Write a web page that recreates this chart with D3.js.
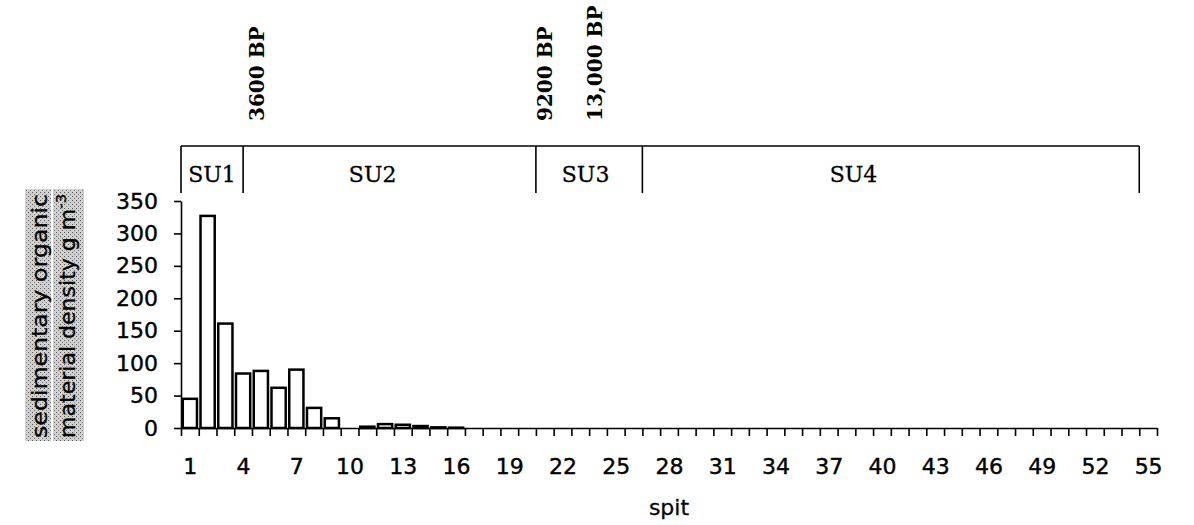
<!DOCTYPE html>
<html>
<head>
<meta charset="utf-8">
<script src="https://cdn.jsdelivr.net/npm/d3@7"></script>
<style>
  body { margin: 0; background: #fff; }
  svg { display: block; }
  .axis text { font-family: "DejaVu Sans", sans-serif; font-size: 22px; fill: #000; stroke: #000; stroke-width: 0.4; }
  .axis path, .axis line { stroke: #000; stroke-width: 1.6; }
</style>
</head>
<body>
<div id="chart"></div>
<script>
// spit numbers and sediment organic density (g m-3)
const spits = [1, 2, 3, 4, 5, 6, 7, 8, 9, 10, 11, 12, 13, 14, 15, 16, 17, 18, 19, 20,
    21, 22, 23, 24, 25, 26, 27, 28, 29, 30, 31, 32, 33, 34, 35, 36, 37, 38, 39, 40,
    41, 42, 43, 44, 45, 46, 47, 48, 49, 50, 51, 52, 53, 54, 55];
const density = [45, 327, 161, 84, 88, 62, 90, 31, 15, 0, 2, 6, 5, 3, 1, 0.5, 0, 0, 0, 0,
    0, 0, 0, 0, 0, 0, 0, 0, 0, 0, 0, 0, 0, 0, 0, 0, 0, 0, 0, 0,
    0, 0, 0, 0, 0, 0, 0, 0, 0, 0, 0, 0, 0, 0, 0];

const yTicks = [0, 50, 100, 150, 200, 250, 300, 350];
const xTickLabels = [1, 4, 7, 10, 13, 16, 19, 22, 25, 28, 31, 34, 37, 40, 43, 46, 49, 52, 55];

// stratigraphic units, boundaries given in spit units
const units = ["SU1", "SU2", "SU3", "SU4"];
const unitBounds = [0.5, 4, 20.5, 26.5, 54.5];
const unitLabelAt = [2.25, 11.3, 23.3, 38.4];

// dates written above the unit bar
const dates = ["3600 BP", "9200 BP", "13,000 BP"];
const dateAt = [4.78, 21.0, 23.83];

const width = 1194, height = 525;

const svg = d3.select("#chart").append("svg")
    .attr("width", width)
    .attr("height", height);

svg.append("rect").attr("width", width).attr("height", height).attr("fill", "#fff");

// stipple fill for the axis title, like the scanned original
const pat = svg.append("defs").append("pattern")
    .attr("id", "stipple")
    .attr("width", 4).attr("height", 4)
    .attr("patternUnits", "userSpaceOnUse");
pat.append("rect").attr("width", 4).attr("height", 4).attr("fill", "#d0d0d0");
pat.append("rect").attr("x", 0).attr("y", 0).attr("width", 1).attr("height", 1).attr("fill", "#555");
pat.append("rect").attr("x", 2).attr("y", 2).attr("width", 1).attr("height", 1).attr("fill", "#777");

const xPos = d3.scaleLinear().domain([0.5, 55.5]).range([181, 1157]);
const x = d3.scaleBand().domain(spits).range([181, 1157]).paddingInner(0.2).paddingOuter(0.1);
const y = d3.scaleLinear().domain([0, 350]).range([428, 201]);

// bars
svg.append("g")
    .selectAll("rect")
    .data(spits.filter((s, i) => density[i] > 0))
    .join("rect")
    .attr("x", d => x(d))
    .attr("y", d => y(density[d - 1]))
    .attr("width", x.bandwidth())
    .attr("height", d => y(0) - y(density[d - 1]))
    .attr("fill", "#fff")
    .attr("stroke", "#000")
    .attr("stroke-width", 2.5);

// y axis
svg.append("g")
    .attr("class", "axis")
    .attr("transform", `translate(${xPos(0.5)},0)`)
    .call(d3.axisLeft(y).tickValues(yTicks).tickSize(7).tickSizeOuter(0).tickPadding(16));

// x axis: ticks sit between the bars
const edges = spits.map(s => s - 0.5).concat([55.5]);
svg.append("g")
    .attr("class", "axis")
    .attr("transform", `translate(0,${y(0)})`)
    .call(d3.axisBottom(xPos).tickValues(edges).tickSize(8).tickSizeOuter(0).tickFormat(""));

// x labels every third spit
const xl = svg.append("g")
    .attr("class", "axis")
    .attr("transform", `translate(0,${y(0)})`)
    .call(d3.axisBottom(xPos).tickValues(xTickLabels).tickSize(0).tickPadding(30));
xl.select(".domain").remove();

svg.append("text")
    .attr("x", (xPos.range()[0] + xPos.range()[1]) / 2)
    .attr("y", 515)
    .attr("text-anchor", "middle")
    .attr("font-family", "DejaVu Sans, sans-serif")
    .attr("font-size", 22)
    .attr("stroke", "#000").attr("stroke-width", 0.3)
    .text("spit");

// y axis title, two stippled lines
const yTitle = [
    { text: "sedimentary organic", bx: 25, bw: 26, base: 47 },
    { text: "material density g m", sup: "-3", bx: 53, bw: 31, base: 75 }
];
yTitle.forEach(l => {
    svg.append("rect")
        .attr("x", l.bx).attr("y", 189)
        .attr("width", l.bw).attr("height", 252)
        .attr("fill", "url(#stipple)");
    const t = svg.append("text")
        .attr("transform", `translate(${l.base},316) rotate(-90)`)
        .attr("text-anchor", "middle")
        .attr("font-family", "DejaVu Sans, sans-serif")
        .attr("font-size", 21)
        .attr("stroke", "#000").attr("stroke-width", 0.3)
        .attr("textLength", 244)
        .attr("lengthAdjust", "spacingAndGlyphs")
        .text(l.text);
    if (l.sup) {
        t.append("tspan")
            .attr("dy", -9)
            .attr("font-size", 14)
            .text(l.sup);
    }
});

// unit bracket above the plot
const bracketTop = 146, bracketBottom = 193;
svg.append("line")
    .attr("x1", xPos(unitBounds[0])).attr("x2", xPos(unitBounds[unitBounds.length - 1]))
    .attr("y1", bracketTop).attr("y2", bracketTop)
    .attr("stroke", "#000").attr("stroke-width", 1.6);
svg.append("g")
    .selectAll("line")
    .data(unitBounds)
    .join("line")
    .attr("x1", d => xPos(d)).attr("x2", d => xPos(d))
    .attr("y1", bracketTop).attr("y2", bracketBottom)
    .attr("stroke", "#000").attr("stroke-width", 1.6);

svg.append("g")
    .selectAll("text")
    .data(units)
    .join("text")
    .attr("x", (d, i) => xPos(unitLabelAt[i]))
    .attr("y", 182)
    .attr("text-anchor", "middle")
    .attr("font-family", "DejaVu Serif, serif")
    .attr("font-size", 22)
    .attr("stroke", "#000").attr("stroke-width", 0.3)
    .text(d => d);

svg.append("g")
    .selectAll("text")
    .data(dates)
    .join("text")
    .attr("transform", (d, i) => `translate(${xPos(dateAt[i]) + 7},121) rotate(-90)`)
    .attr("font-family", "DejaVu Serif, serif")
    .attr("font-weight", "bold")
    .attr("font-size", 20)
    .text(d => d);
</script>
</body>
</html>
